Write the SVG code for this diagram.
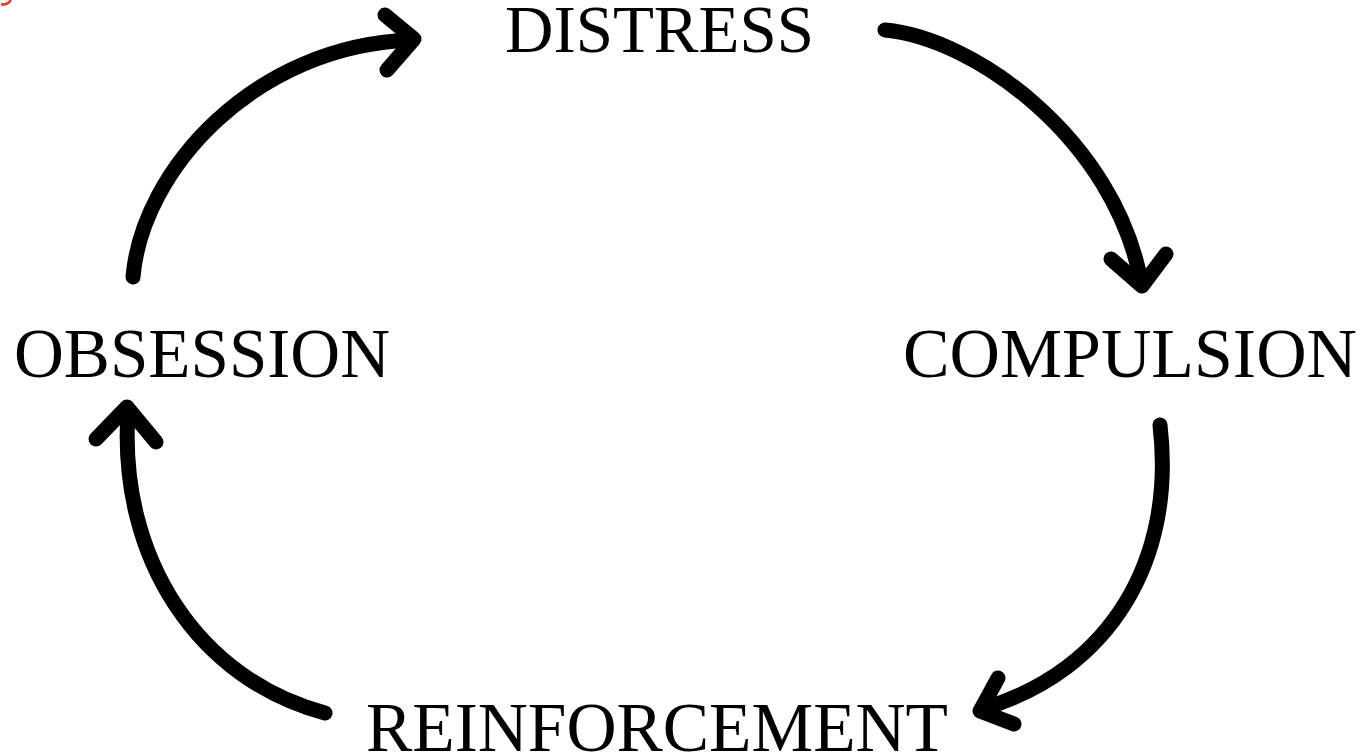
<svg xmlns="http://www.w3.org/2000/svg" width="1366" height="755" viewBox="0 0 1366 755">
<style>
.lbl{font-family:"Liberation Serif","Times New Roman",serif;fill:#000;}
.arc{fill:none;stroke:#000;stroke-width:15;stroke-linecap:round;stroke-linejoin:round;}
</style>
<rect width="1366" height="755" fill="#fff"/>
<path d="M1,4 Q7,6 11,0" fill="none" stroke="#e0402f" stroke-width="2.5"/>
<g id="connectors">
<g id="obsession-distress">
<path class="arc" d="M133,277 C142,170 255,45 412,40"/>
<path class="arc" d="M385,15 L414,39 L387,70"/>
</g>
<g id="distress-compulsion">
<path class="arc" d="M885,30 C975,38 1115,140 1141,282"/>
<path class="arc" d="M1111,259 L1142,286 L1166,254"/>
</g>
<g id="compulsion-reinforcement">
<path class="arc" d="M1160,425 C1176,560 1110,670 985,708"/>
<path class="arc" d="M998,678 L980,711 L1014,724"/>
</g>
<g id="reinforcement-obsession">
<path class="arc" d="M325,713 C200,680 118,560 128,412"/>
<path class="arc" d="M96,439 L127,407 L156,442"/>
</g>
</g>
<g id="node-distress"><text class="lbl" x="505" y="52" font-size="68" textLength="309" lengthAdjust="spacingAndGlyphs">DISTRESS</text></g>
<g id="node-obsession"><text class="lbl" x="14" y="377" font-size="69" textLength="376" lengthAdjust="spacingAndGlyphs">OBSESSION</text></g>
<g id="node-compulsion"><text class="lbl" x="903" y="377" font-size="69" textLength="454" lengthAdjust="spacingAndGlyphs">COMPULSION</text></g>
<g id="node-reinforcement"><text class="lbl" x="366" y="751" font-size="69" textLength="582" lengthAdjust="spacingAndGlyphs">REINFORCEMENT</text></g>
</svg>
